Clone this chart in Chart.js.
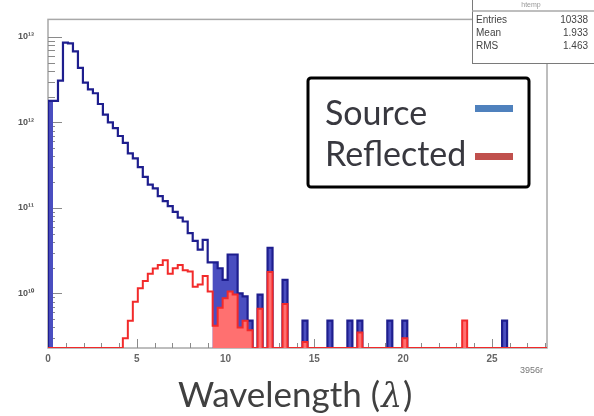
<!DOCTYPE html>
<html>
<head>
<meta charset="utf-8">
<script src="https://cdn.jsdelivr.net/npm/chart.js@4.4.1/dist/chart.umd.min.js"></script>
<style>
  html, body { margin: 0; padding: 0; background: #fff; }
  canvas { display: block; }
</style>
</head>
<body>
<canvas id="hist" width="594" height="416"></canvas>
<script>
// ROOT style histogram, 100 bins over the wavelength axis
const N_BINS = 100;
const X_MIN = 0;
const X_MAX = 28.1;

const X_TICKS = [0, 5, 10, 15, 20, 25];
const Y_TICKS = [1e10, 1e11, 1e12, 1e13];
const Y_TICK_LABELS = ['10¹⁰', '10¹¹', '10¹²', '10¹³'];
const Y_MIN = 2.3e9;
const Y_MAX = 1.6e13;

const SERIES_LABELS = ['Source', 'Reflected'];
const X_TITLE = ['Wavelength (', 'λ', ')'];
const X_UNIT = '3956r';

// bin contents, bins 0..99
const source = [
  1.78e12, 1.78e12, 3.08e12, 8.55e12, 8.4e12, 6.76e12, 4.33e12, 2.92e12, 2.43e12, 2.19e12,
  1.64e12, 1.23e12, 1.0e12, 8.55e11, 6.93e11, 5.77e11, 4.33e11, 3.8e11, 3.0e11, 2.31e11,
  1.87e11, 1.69e11, 1.37e11, 1.2e11, 1.05e11, 9.0e10, 7.7e10, 6.93e10, 5.07e10, 4.11e10,
  3.25e10, 4.22e10, 2.31e10, 2.31e10, 1.97e10, 1.44e10, 2.85e10, 2.85e10, 1.0e10, 9.25e9,
  4.81e9, 0, 9.7e9, 0, 3.42e10, 0, 0, 1.44e10, 0, 0,
  0, 4.81e9, 0, 0, 0, 0, 4.81e9, 0, 0, 0,
  4.81e9, 0, 4.81e9, 0, 0, 0, 0, 0, 4.81e9, 0,
  0, 4.81e9, 0, 0, 0, 0, 0, 0, 0, 0,
  0, 0, 0, 0, 0, 0, 0, 0, 0, 0,
  0, 4.81e9, 0, 0, 0, 0, 0, 0, 0, 0
];
const reflected = [
  0, 0, 0, 0, 0, 0, 0, 0, 0, 0,
  0, 0, 0, 0, 0, 3.0e9, 4.8e9, 8.0e9, 1.15e10, 1.4e10,
  1.7e10, 1.95e10, 2.15e10, 2.45e10, 1.7e10, 1.97e10, 2.15e10, 1.87e10, 1.8e10, 1.2e10,
  1.27e10, 1.6e10, 1.05e10, 4.2e9, 6.8e9, 8.8e9, 1.05e10, 9.7e9, 4.0e9, 4.8e9,
  3.7e9, 0, 6.6e9, 0, 1.78e10, 0, 0, 7.5e9, 0, 0,
  0, 2.7e9, 0, 0, 0, 0, 0, 0, 0, 0,
  0, 0, 3.5e9, 0, 0, 0, 0, 0, 0, 0,
  0, 3.0e9, 0, 0, 0, 0, 0, 0, 0, 0,
  0, 0, 0, 4.81e9, 0, 0, 0, 0, 0, 0,
  0, 0, 0, 0, 0, 0, 0, 0, 0, 0
];

const STATS_NAME = 'htemp';
const STATS_LABELS = ['Entries', 'Mean', 'RMS'];
const STATS_VALUES = ['10338', '1.933', '1.463'];

const BIN_W = (X_MAX - X_MIN) / N_BINS;
const SHADED_FROM = 33; // the fills only show on the first bin and the tail

// step outline: points at low bin edges, closed down to the axis on both ends
function outline(values) {
  const pts = [{ x: X_MIN, y: Y_MIN }];
  values.forEach((v, i) => pts.push({ x: X_MIN + i * BIN_W, y: v > 0 ? v : Y_MIN }));
  pts.push({ x: X_MAX, y: Y_MIN });
  return pts;
}
function shaded(values) {
  return outline(values.map((v, i) => (i === 0 || i >= SHADED_FROM) ? v : 0));
}

const rootFrame = {
  id: 'rootFrame',
  beforeDatasetsDraw(chart) {
    const { ctx, chartArea: a, scales } = chart;
    ctx.save();
    ctx.strokeStyle = '#a8a8a8';
    ctx.lineWidth = 1.5;
    ctx.strokeRect(a.left, a.top, a.right - a.left, a.bottom - a.top);
    // ticks inside the frame
    ctx.strokeStyle = '#8a8a8a';
    ctx.lineWidth = 1;
    ctx.beginPath();
    for (let k = 9; k <= 13; k++) {
      for (let m = 1; m <= 9; m++) {
        const v = m * Math.pow(10, k);
        if (v < Y_MIN || v > Y_MAX) continue;
        const y = Math.round(scales.y.getPixelForValue(v)) + 0.5;
        ctx.moveTo(a.left, y);
        ctx.lineTo(a.left + (m === 1 ? 14 : 7), y);
      }
    }
    for (let u = 0; u <= Math.floor(X_MAX); u++) {
      const x = Math.round(scales.x.getPixelForValue(u)) + 0.5;
      ctx.moveTo(x, a.bottom);
      ctx.lineTo(x, a.bottom - (X_TICKS.includes(u) ? 9 : 5));
    }
    ctx.stroke();
    ctx.restore();
  },
  afterDraw(chart) {
    const { ctx } = chart;
    ctx.save();

    // stats box
    ctx.fillStyle = '#fff';
    ctx.fillRect(472, -2, 130, 65);
    ctx.strokeStyle = '#7a7a7a';
    ctx.lineWidth = 1;
    ctx.strokeRect(472.5, -2, 130, 65.5);
    ctx.strokeStyle = '#a8a8a8';
    ctx.lineWidth = 1.5;
    ctx.beginPath();
    ctx.moveTo(472, 11);
    ctx.lineTo(594, 11);
    ctx.stroke();
    ctx.fillStyle = '#999';
    ctx.font = '7px "Liberation Sans"';
    ctx.textAlign = 'center';
    ctx.textBaseline = 'middle';
    ctx.fillText(STATS_NAME, 531, 5);
    ctx.fillStyle = '#444';
    ctx.font = '10px "Liberation Sans"';
    STATS_LABELS.forEach((lab, i) => {
      const y = 20 + i * 13;
      ctx.textAlign = 'left';
      ctx.fillText(lab, 476, y);
      ctx.textAlign = 'right';
      ctx.fillText(STATS_VALUES[i], 588, y);
    });

    // legend box
    ctx.strokeStyle = '#000';
    ctx.lineWidth = 3;
    ctx.beginPath();
    if (ctx.roundRect) ctx.roundRect(308, 78, 221, 109, 3);
    else ctx.rect(308, 78, 221, 109);
    ctx.stroke();
    ctx.fillStyle = '#38383f';
    ctx.font = '34px Lato';
    ctx.textAlign = 'left';
    ctx.textBaseline = 'alphabetic';
    ctx.fillText(SERIES_LABELS[0], 325, 125);
    ctx.fillText(SERIES_LABELS[1], 325, 166);
    ctx.fillStyle = '#4f81bd';
    ctx.fillRect(475, 105, 38, 7);
    ctx.fillStyle = '#c0504d';
    ctx.fillRect(475, 153, 38, 7);

    // axis title
    ctx.fillStyle = '#404040';
    let x = 178;
    ctx.font = '35px Lato';
    ctx.fillText(X_TITLE[0], x, 407);
    x += ctx.measureText(X_TITLE[0]).width;
    ctx.font = 'italic 33px "DejaVu Serif"';
    ctx.fillText(X_TITLE[1], x + 1, 407);
    x += ctx.measureText(X_TITLE[1]).width + 2;
    ctx.font = '35px Lato';
    ctx.fillText(X_TITLE[2], x, 407);

    ctx.fillStyle = '#777';
    ctx.font = '9px "Liberation Sans"';
    ctx.textAlign = 'right';
    ctx.textBaseline = 'middle';
    ctx.fillText(X_UNIT, 543, 371);
    ctx.restore();
  }
};

const ctx = document.getElementById('hist').getContext('2d');
const chart = new Chart(ctx, {
  type: 'line',
  data: {
    datasets: [
      {
        label: SERIES_LABELS[1],
        data: outline(reflected),
        stepped: 'before',
        borderColor: '#f22a2a',
        borderWidth: 2,
        fill: false,
        order: 0
      },
      {
        label: 'reflected fill',
        data: shaded(reflected),
        stepped: 'before',
        borderWidth: 0,
        borderColor: 'rgba(0,0,0,0)',
        backgroundColor: '#ff7070',
        fill: 'start',
        order: 1
      },
      {
        label: SERIES_LABELS[0],
        data: outline(source),
        stepped: 'before',
        borderColor: '#1e1e8e',
        borderWidth: 2.2,
        fill: false,
        order: 2
      },
      {
        label: 'source fill',
        data: shaded(source),
        stepped: 'before',
        borderWidth: 0,
        borderColor: 'rgba(0,0,0,0)',
        backgroundColor: '#4a4ec0',
        fill: 'start',
        order: 3
      }
    ]
  },
  options: {
    responsive: false,
    animation: false,
    devicePixelRatio: 1,
    layout: { padding: { top: 10, right: 47, left: 0, bottom: 0 } },
    elements: { point: { radius: 0, hoverRadius: 0 }, line: { tension: 0 } },
    plugins: { legend: { display: false }, tooltip: { enabled: false } },
    scales: {
      x: {
        type: 'linear',
        min: X_MIN,
        max: X_MAX,
        bounds: 'data',
        grid: { display: false, drawTicks: false },
        border: { display: false },
        afterBuildTicks: s => { s.ticks = X_TICKS.map(v => ({ value: v })); },
        afterFit: s => { s.height = 68; },
        ticks: {
          padding: 5,
          autoSkip: false,
          maxRotation: 0,
          color: '#666',
          font: { size: 10, family: 'Liberation Sans', weight: 'bold' },
          callback: v => String(v)
        }
      },
      y: {
        type: 'logarithmic',
        min: Y_MIN,
        max: Y_MAX,
        bounds: 'data',
        grid: { display: false, drawTicks: false },
        border: { display: false },
        afterBuildTicks: s => { s.ticks = Y_TICKS.map(v => ({ value: v })); },
        afterFit: s => { s.width = 48; },
        ticks: {
          padding: 14,
          autoSkip: false,
          color: '#555',
          font: { size: 9, family: 'Liberation Sans', weight: 'bold' },
          callback: (v, i) => Y_TICK_LABELS[i]
        }
      }
    }
  },
  plugins: [rootFrame]
});
</script>
</body>
</html>
